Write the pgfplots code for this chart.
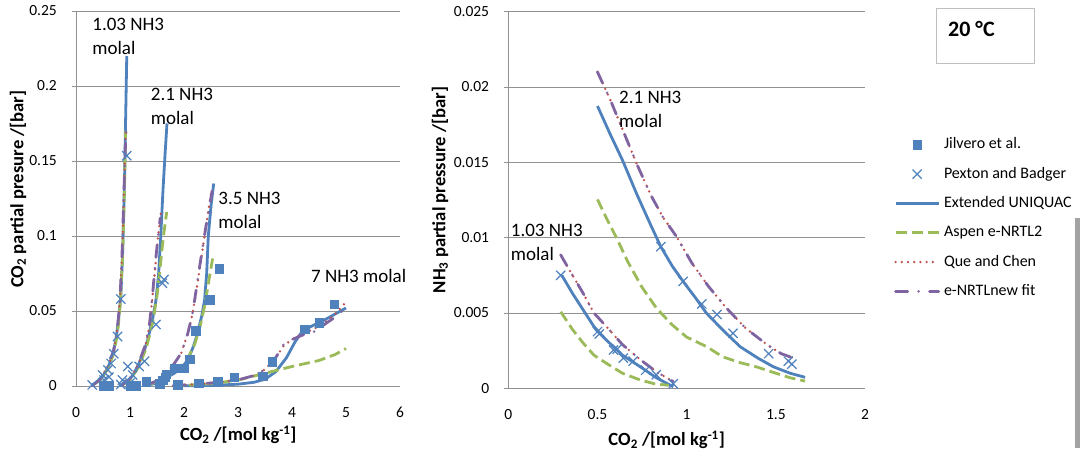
\documentclass[border=0pt]{standalone}
\usepackage{pgfplots}
\pgfplotsset{compat=1.18}
\usepackage{fontspec}
\setmainfont{Carlito}

\definecolor{uniq}{HTML}{4F81BD}
\definecolor{aspen}{HTML}{9BBB59}
\definecolor{quechen}{HTML}{C0504D}
\definecolor{enrtl}{HTML}{8064A2}
\definecolor{gridc}{HTML}{919191}
\definecolor{framec}{HTML}{BFBFBF}
\definecolor{barc}{HTML}{A3A3A3}

\newcommand{\tickfont}{\fontsize{15.5bp}{18bp}\selectfont}
\newcommand{\labfont}{\fontsize{18.6bp}{22bp}\selectfont\bfseries}
\newcommand{\notefont}{\fontsize{19bp}{23.7bp}\selectfont}
\newcommand{\legfont}{\fontsize{16bp}{19bp}\selectfont}

\tikzset{note/.style={font=\notefont, align=left, anchor=base west, inner sep=0pt}}

\pgfplotsset{
  vle/.style={
    scale only axis, clip=false,
    axis lines*=left,
    axis line style={gridc, line width=0.8bp},
    ymajorgrids, grid style={gridc, line width=0.8bp},
    tick align=outside,
    xtick style={draw=none},
    ytick style={gridc, line width=0.8bp},
    major tick length=4bp,
    ymin=0, xmin=0,
    scaled y ticks=false, scaled x ticks=false,
    ticklabel style={font=\tickfont},
    /pgf/number format/assume math mode=true,
    yticklabel style={/pgf/number format/fixed, /pgf/number format/precision=3,
      anchor=east, inner sep=0pt, xshift=-15bp},
    xticklabel style={anchor=center, inner sep=0pt, yshift=-22.3bp},
    unbounded coords=jump,
  },
  % model curves and measured points
  uniqstyle/.style={uniq, line width=2.8bp, line join=round},
  aspenstyle/.style={aspen, line width=2.8bp, dash pattern=on 11bp off 5bp},
  questyle/.style={quechen, line width=2.6bp, line cap=round, dash pattern=on 0bp off 6.2bp},
  enrtlstyle/.style={enrtl, line width=2.8bp, line cap=round, dash pattern=on 12bp off 11bp on 0bp off 11bp},
  jilstyle/.style={only marks, mark=square*, mark size=4.3bp, mark options={fill=uniq, draw=uniq, solid}},
  pexstyle/.style={only marks, mark=x, mark size=6.5bp, mark options={draw=uniq, line width=1.2bp, solid}},
  % every legend sample gets the same invisible frame, so all rows line up alike
  linelegend/.style={legend image code/.code={\path[draw=none, fill=none] (0bp,-8bp) rectangle (43bp,8bp);\draw[##1] (0bp,0bp) -- (43bp,0bp);}},
  marklegend/.style={legend image code/.code={\path[draw=none, fill=none] (0bp,-8bp) rectangle (43bp,8bp);\draw[##1] plot coordinates {(21.5bp,0bp)};}},
}

\begin{document}
\begin{tikzpicture}
\useasboundingbox (0bp,0bp) rectangle (1080bp,453bp);

% ---------------- CO2 partial pressure ----------------
\begin{axis}[vle,
  at={(76bp,67bp)}, anchor=south west,
  width=324bp, height=375bp,
  xmax=6, ymax=0.25,
  xtick={0,1,...,6},
  ytick={0,0.05,0.1,0.15,0.2,0.25},
  xlabel={CO\textsubscript{2} /[mol kg\textsuperscript{-1}]},
  ylabel={CO\textsubscript{2} partial presure /[bar]},
  every axis x label/.style={at={(rel axis cs:0.501,0)}, anchor=center, yshift=-49bp, font=\labfont},
  every axis y label/.style={at={(rel axis cs:0,0.525)}, anchor=center, xshift=-58bp, rotate=90, font=\labfont},
]
% Jilvero et al.
\addplot[jilstyle] coordinates {
 (0.50,0.0003) (0.57,0.0006) (0.60,0.0002) (1.00,0.0003) (1.05,0.0002) (1.10,0.0003)
 (1.30,0.0030) (1.55,0.0015) (1.60,0.0040) (1.65,0.0060) (1.67,0.0080) (1.82,0.0118)
 (1.88,0.0007) (1.99,0.0120) (2.10,0.0178) (2.22,0.0370) (2.27,0.0018) (2.48,0.0575)
 (2.62,0.0030) (2.65,0.0780) (2.93,0.0058) (3.46,0.0066) (3.63,0.0162) (4.23,0.0380)
 (4.50,0.0423) (4.78,0.0545)};
% Pexton and Badger
\addplot[pexstyle] coordinates {
 (0.30,0.0007) (0.49,0.0073) (0.52,0.0040) (0.59,0.0107) (0.61,0.0060) (0.65,0.0150)
 (0.70,0.0215) (0.77,0.0330) (0.83,0.0580) (0.94,0.1535)
 (0.83,0.0010) (0.86,0.0040) (0.96,0.0130) (1.00,0.0020) (1.05,0.0073) (1.17,0.0130)
 (1.27,0.0165) (1.48,0.0410) (1.60,0.0685) (1.63,0.0710)};
% Extended UNIQUAC
\addplot[uniqstyle] coordinates {
 (0.28,0) (0.40,0.003) (0.50,0.0065) (0.60,0.013) (0.68,0.021) (0.74,0.031) (0.79,0.045)
 (0.83,0.060) (0.86,0.085) (0.88,0.110) (0.90,0.140) (0.92,0.180) (0.94,0.220)
 (nan,nan)
 (0.80,0) (0.95,0.0027) (1.05,0.007) (1.14,0.013) (1.25,0.022) (1.33,0.031) (1.42,0.045)
 (1.48,0.057) (1.53,0.075) (1.57,0.100) (1.61,0.130) (1.65,0.155) (1.685,0.175)
 (nan,nan)
 (1.25,0.0003) (1.45,0.0015) (1.60,0.004) (1.82,0.0085) (1.95,0.012) (2.07,0.0173)
 (2.17,0.026) (2.25,0.035) (2.33,0.047) (2.38,0.057) (2.42,0.075) (2.45,0.100)
 (2.50,0.120) (2.55,0.135)
 (nan,nan)
 (1.80,0) (2.50,0.0004) (3.00,0.0012) (3.30,0.0025) (3.50,0.0045) (3.70,0.0095)
 (3.90,0.019) (4.05,0.029) (4.20,0.037) (4.40,0.0405) (4.60,0.044) (4.80,0.048) (5.00,0.052)};
% Aspen e-NRTL2
\addplot[aspenstyle] coordinates {
 (0.30,0.0003) (0.45,0.004) (0.60,0.012) (0.70,0.022) (0.77,0.035) (0.82,0.055)
 (0.86,0.085) (0.89,0.120) (0.92,0.170)
 (nan,nan)
 (0.85,0.0005) (1.00,0.004) (1.15,0.012) (1.30,0.025) (1.42,0.042) (1.50,0.060)
 (1.56,0.080) (1.62,0.100) (1.68,0.116)
 (nan,nan)
 (1.30,0.0005) (1.60,0.004) (1.85,0.0095) (2.05,0.017) (2.20,0.028) (2.30,0.040)
 (2.38,0.053) (2.45,0.068) (2.53,0.085)
 (nan,nan)
 (1.80,0) (2.50,0.0015) (3.00,0.004) (3.50,0.0085) (4.00,0.013) (4.50,0.017)
 (4.80,0.021) (5.00,0.025)};
% Que and Chen
\addplot[questyle] coordinates {
 (0.30,0.0003) (0.45,0.0045) (0.60,0.014) (0.70,0.024) (0.76,0.036) (0.81,0.055)
 (0.85,0.085) (0.88,0.120) (0.91,0.160) (0.93,0.172)
 (nan,nan)
 (0.85,0.0005) (1.00,0.005) (1.15,0.014) (1.28,0.026) (1.36,0.040) (1.41,0.057)
 (1.47,0.080) (1.52,0.100) (1.57,0.115)
 (nan,nan)
 (1.30,0.0005) (1.60,0.005) (1.82,0.015) (1.95,0.022) (2.07,0.035) (2.15,0.047)
 (2.20,0.057) (2.30,0.080) (2.40,0.105) (2.50,0.128)
 (nan,nan)
 (1.80,0.0002) (2.50,0.002) (3.00,0.004) (3.30,0.007) (3.50,0.011) (3.70,0.019)
 (3.85,0.027) (4.00,0.031) (4.20,0.035) (4.40,0.038) (4.60,0.042) (4.80,0.048) (5.00,0.056)};
% e-NRTL new fit
\addplot[enrtlstyle] coordinates {
 (0.30,0.0003) (0.45,0.0045) (0.60,0.014) (0.70,0.024) (0.76,0.036) (0.81,0.055)
 (0.85,0.085) (0.88,0.120) (0.91,0.155) (0.93,0.172)
 (nan,nan)
 (0.85,0.0005) (1.00,0.005) (1.15,0.014) (1.28,0.027) (1.36,0.041) (1.41,0.058)
 (1.47,0.082) (1.52,0.100) (1.56,0.112)
 (nan,nan)
 (1.30,0.0005) (1.60,0.005) (1.82,0.015) (1.95,0.022) (2.07,0.035) (2.15,0.047)
 (2.20,0.058) (2.30,0.082) (2.40,0.105) (2.52,0.130)
 (nan,nan)
 (1.80,0.0002) (2.50,0.002) (3.00,0.004) (3.30,0.007) (3.50,0.011) (3.70,0.019)
 (3.85,0.028) (4.00,0.031) (4.20,0.034) (4.40,0.036) (4.60,0.041) (4.80,0.046) (5.00,0.052)};

% labels of the NH3 molalities (anchored at the baseline of the last line)
\node[note] at (axis cs:0.30,0.2212) {1.03 NH3\\molal};
\node[note] at (axis cs:1.383,0.1745) {2.1 NH3\\molal};
\node[note] at (axis cs:2.635,0.1052) {3.5 NH3\\molal};
\node[note] at (axis cs:4.352,0.0688) {7 NH3 molal};
\end{axis}

% ---------------- NH3 partial pressure ----------------
\begin{axis}[vle,
  at={(508.3bp,64.7bp)}, anchor=south west,
  width=356.7bp, height=376.6bp,
  xmax=2, ymax=0.025,
  xtick={0,0.5,1,1.5,2},
  ytick={0,0.005,0.01,0.015,0.02,0.025},
  xlabel={CO\textsubscript{2} /[mol kg\textsuperscript{-1}]},
  ylabel={NH\textsubscript{3} partial pressure /[bar]},
  every axis x label/.style={at={(rel axis cs:0.444,0)}, anchor=center, yshift=-51.7bp, font=\labfont},
  every axis y label/.style={at={(rel axis cs:0,0.5266)}, anchor=center, xshift=-68.3bp, rotate=90, font=\labfont},
  legend style={draw=none, fill=none, at={(rel axis cs:1.0813,0.6682)}, anchor=north west,
    font=\legfont, inner sep=0pt, row sep=13.3bp, column sep=4bp,
    nodes={inner sep=0pt, text height=11bp, text depth=3bp}},
  legend cell align=left,
]
\addlegendimage{jilstyle, marklegend}
\addlegendentry{Jilvero et al.}
% Pexton and Badger
\addplot[pexstyle, marklegend] coordinates {
 (0.294,0.0075) (0.50,0.00376) (0.51,0.0036) (0.59,0.00254) (0.61,0.0026) (0.645,0.0020)
 (0.70,0.0018) (0.77,0.0012) (0.83,0.0009) (0.925,0.0003)
 (0.855,0.0094) (0.98,0.0071) (1.085,0.0056) (1.17,0.0049) (1.26,0.00365) (1.46,0.0023)
 (1.57,0.0018) (1.59,0.0016)};
\addlegendentry{Pexton and Badger}
% Extended UNIQUAC
\addplot[uniqstyle, linelegend] coordinates {
 (0.30,0.0075) (0.36,0.0063) (0.42,0.0052) (0.48,0.0041) (0.55,0.0032) (0.64,0.0022)
 (0.74,0.00143) (0.83,0.0007) (0.925,0.0001)
 (nan,nan)
 (0.50,0.01874) (0.57,0.0169) (0.64,0.01515) (0.72,0.0129) (0.80,0.0108) (0.855,0.0094)
 (0.92,0.0081) (0.98,0.0071) (1.05,0.0060) (1.11,0.0050) (1.20,0.0039) (1.30,0.00276)
 (1.40,0.0020) (1.486,0.00143) (1.58,0.0010) (1.664,0.00073)};
\addlegendentry{Extended UNIQUAC}
% Aspen e-NRTL2
\addplot[aspenstyle, linelegend] coordinates {
 (0.294,0.00508) (0.36,0.0039) (0.42,0.0030) (0.48,0.0022) (0.55,0.00166) (0.64,0.0010)
 (0.74,0.00055) (0.82,0.0003) (0.90,0.0002)
 (nan,nan)
 (0.50,0.01254) (0.55,0.0113) (0.608,0.00996) (0.67,0.0084) (0.75,0.0067) (0.832,0.0053)
 (0.92,0.0042) (1.00,0.0034) (1.113,0.00276) (1.20,0.0021) (1.30,0.0017) (1.39,0.00143)
 (1.50,0.0010) (1.58,0.0007) (1.664,0.00048)};
\addlegendentry{Aspen e-NRTL2}
% Que and Chen
\addplot[questyle, linelegend] coordinates {
 (0.294,0.00885) (0.36,0.0075) (0.42,0.0063) (0.48,0.0050) (0.55,0.0041) (0.64,0.0029)
 (0.74,0.0019) (0.83,0.0011) (0.925,0.00044)
 (nan,nan)
 (0.50,0.0210) (0.57,0.0192) (0.64,0.0172) (0.72,0.0149) (0.80,0.0128) (0.87,0.0113)
 (0.944,0.01006) (1.03,0.0083) (1.12,0.0068) (1.225,0.0053) (1.33,0.0040) (1.45,0.0029)
 (1.53,0.0023) (1.60,0.0020)};
\addlegendentry{Que and Chen}
% e-NRTL new fit
\addplot[enrtlstyle, linelegend] coordinates {
 (0.294,0.00885) (0.36,0.0075) (0.42,0.0063) (0.48,0.0050) (0.55,0.0041) (0.64,0.0029)
 (0.74,0.0019) (0.83,0.0011) (0.925,0.00044)
 (nan,nan)
 (0.50,0.0210) (0.57,0.0192) (0.64,0.0172) (0.72,0.0149) (0.80,0.0128) (0.87,0.0113)
 (0.944,0.01006) (1.03,0.0083) (1.12,0.0068) (1.225,0.0053) (1.33,0.0040) (1.45,0.0029)
 (1.53,0.0023) (1.60,0.0020)};
\addlegendentry{e-NRTLnew fit}

\node[note] at (axis cs:0.6207,0.01733) {2.1 NH3\\molal};
\node[note] at (axis cs:0.0135,0.00848) {1.03 NH3\\molal};
\end{axis}

% temperature box
\draw[framec, line width=0.9bp] (936bp,389.7bp) rectangle (1034.3bp,444.7bp);
\node[font=\fontsize{22bp}{26bp}\selectfont\bfseries, anchor=base west, inner sep=0pt] at (948bp,416.9bp) {20 °C};
% side bar
\fill[barc] (1075bp,5bp) rectangle (1080bp,235bp);
\end{tikzpicture}
\end{document}
